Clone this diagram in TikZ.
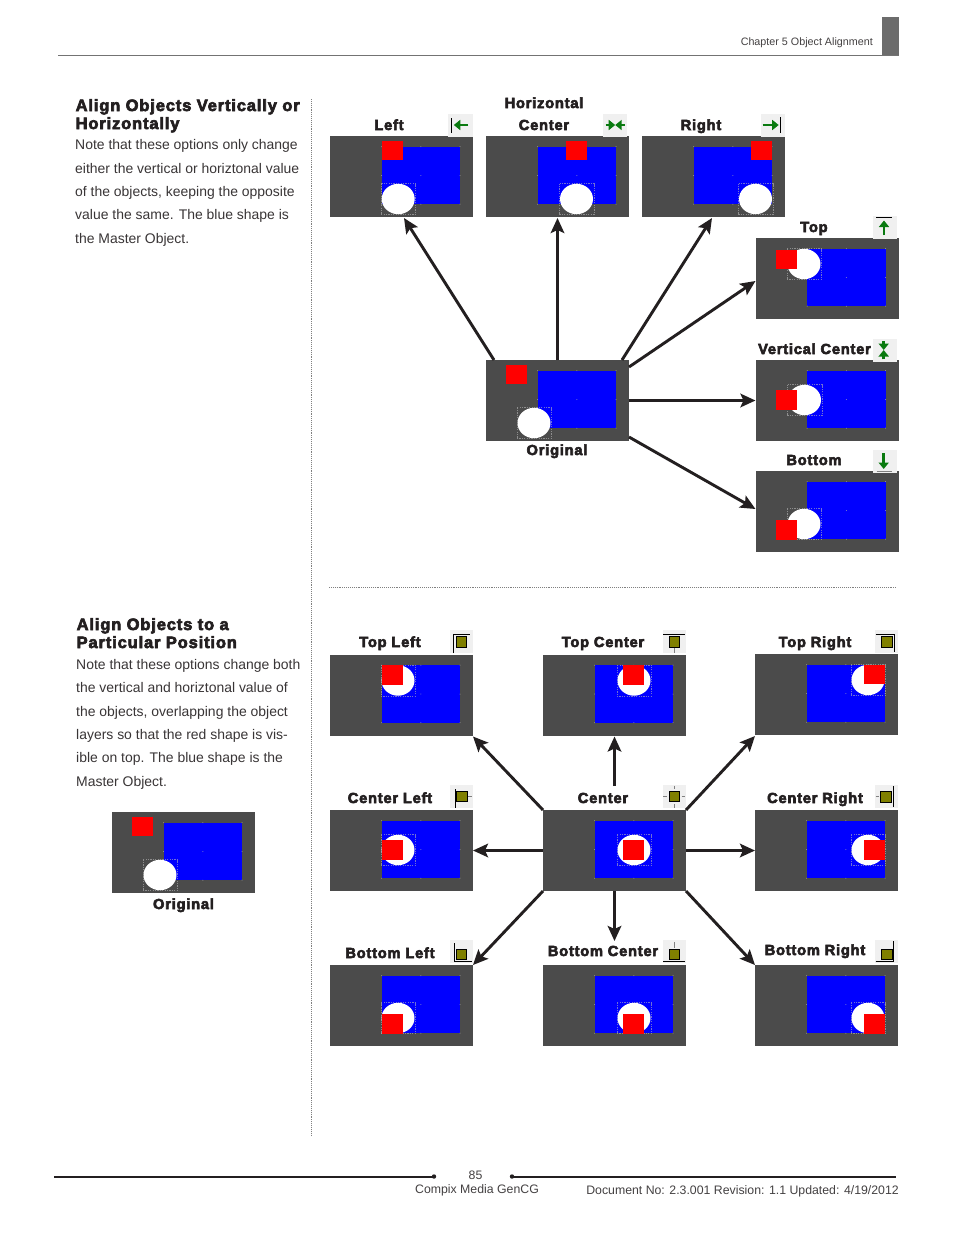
\documentclass[tikz,border=0pt]{standalone}
\usepackage{fontspec}
\usetikzlibrary{arrows.meta}
\setmainfont{Liberation Sans}
\newfontfamily\heavy[FakeBold=4,LetterSpace=5.5]{Liberation Sans Bold}
\definecolor{ink}{HTML}{231F20}
\definecolor{panelgray}{HTML}{4B4B4B}
\definecolor{iconbg}{HTML}{F0F0F0}
\definecolor{igreen}{HTML}{0A7A10}
\definecolor{olive1}{HTML}{808000}
\tikzset{
  panelbox/.style={rectangle,fill=panelgray,anchor=north west,inner sep=0pt,outer sep=0pt,minimum width=143pt,minimum height=81pt},
  lab/.style={anchor=base,inner sep=0pt,font=\heavy\fontsize{14.6}{16}\selectfont,text=ink},
  head/.style={anchor=base west,inner sep=0pt,align=left,font=\heavy\fontsize{16.4}{18}\selectfont,text=ink},
  body/.style={anchor=base west,inner sep=0pt,align=left,font=\fontsize{13.95}{23.3}\selectfont,text=ink!90},
  foot/.style={inner sep=0pt,font=\fontsize{12.3}{14}\selectfont,text=ink!85},
  conn/.style={draw=ink,line width=2.9pt,-{Stealth[length=15pt,width=13.5pt,inset=3pt]}},
  garrow/.style={draw=igreen,line width=2.8pt,-{Triangle[length=6.5pt,width=10pt]}},
  iline/.style={draw=black,line width=0.9pt},
  stub/.style={draw=gray,line width=0.9pt},
  oliv/.style={fill=olive1,draw=black,line width=1pt},
  seldash/.style={draw=gray!55,draw opacity=0.6,line width=0.3pt,dash pattern=on 1.2pt off 1.2pt},
  pagerule/.style={draw=ink,line width=2pt},
  dotrule/.style={draw=gray,line width=0.6pt,dash pattern=on 0.7pt off 1.2pt}
}
% name, x, y, red x, red y, circle cx, circle cy
\newcommand{\pnl}[7]{%
  \begin{scope}[shift={(#2,#3)}]
    \node[panelbox] (#1) at (0,0) {};
    \fill[blue] (51.7,10.7) rectangle (130,68.2);
    \foreach \hx in {51.7,90.8,130}{\foreach \hy in {10.7,39.5,68.2}{\fill[gray!55,opacity=0.7] (\hx,\hy) circle (0.5);}}
    \fill[white] (#6,#7) ellipse (16.5 and 15.2);
    \draw[seldash] (#6-17.3,#7-15.5) rectangle (#6+17.3,#7+15.5);
    \fill[red] (#4,#5) rectangle ++(21.2,19.5);
  \end{scope}}
\newcommand{\icn}[4]{%
  \begin{scope}[shift={(#1,#2)}]
    \fill[iconbg] (0,0) rectangle (#3,23);
    #4
  \end{scope}}
\newcommand{\sq}[2]{\draw[oliv] (#1,#2) rectangle ++(10.3,10.3);}
\begin{document}
\begin{tikzpicture}[x=1pt,y=-1pt]
\useasboundingbox (0,0) rectangle (954,1235);
\fill[white] (0,0) rectangle (954,1235);
% header
\fill[gray!85!black] (882,17) rectangle (899,56);
\coordinate (hrA) at (58,55.7); \coordinate (hrB) at (899,55.7);
\draw[draw=gray!90!black,line width=1.4pt] (hrA) -- (hrB);
\node[foot,anchor=base east,font=\fontsize{10.75}{12}\selectfont] (chap) at (873,45) {Chapter 5 Object Alignment};
% dotted rules
\coordinate (vdA) at (311,99); \coordinate (vdB) at (311,1136);
\draw[dotrule] (vdA) -- (vdB);
\coordinate (hdA) at (329,587); \coordinate (hdB) at (897,587);
\draw[dotrule] (hdA) -- (hdB);
% left column
\node[head] (h1) at (75.5,129) {Align Objects Vertically or\\Horizontally};
\node[body] (b1) at (75,243) {Note that these options only change\\either the vertical or horiztonal value\\of the objects, keeping the opposite\\value the same. The blue shape is\\the Master Object.};
\node[head] (h2) at (76.5,648) {Align Objects to a\\Particular Position};
\node[body] (b2) at (76,786) {Note that these options change both\\the vertical and horiztonal value of\\the objects, overlapping the object\\layers so that the red shape is vis-\\ible on top. The blue shape is the\\Master Object.};
% top group panels
\pnl{left}{330}{136}{51.7}{4.7}{68.2}{63}
\pnl{hcen}{486}{136}{80}{4.7}{90.5}{63}
\pnl{right}{642}{136}{109}{4.7}{113.5}{63}
\pnl{top}{755.5}{238}{20}{11.7}{48.5}{26}
\pnl{vcen}{755.5}{360}{20}{30.3}{49}{40}
\pnl{bot}{755.5}{471}{20}{49}{48.5}{53}
\pnl{orig}{486}{360}{20}{4.7}{48}{63}
% lower group panels
\pnl{tl}{330}{654.5}{51.5}{10.7}{68}{26}
\pnl{tc}{543}{654.5}{80}{10.7}{91}{26}
\pnl{tr}{755}{654}{109}{10.7}{113}{26}
\pnl{cl}{330}{810}{51.5}{30}{68}{40}
\pnl{cc}{543}{810}{80}{30}{91}{40}
\pnl{cr}{755}{810}{109}{30}{113}{40}
\pnl{bl}{330}{965}{51.5}{49}{68}{53}
\pnl{bc}{543}{965}{80}{49}{91}{53}
\pnl{br}{755}{965}{109}{49}{113}{53}
\pnl{orig2}{112}{812}{20}{4.7}{48}{63}
% labels
\node[lab] (lLeft) at (389,130) {Left};
\node[lab] (lHor) at (544,108) {Horizontal};
\node[lab] (lCen) at (544,130) {Center};
\node[lab] (lRight) at (701,130) {Right};
\node[lab] (lTop) at (814,232) {Top};
\node[lab] (lVC) at (814.5,354) {Vertical Center};
\node[lab] (lBot) at (814,465) {Bottom};
\node[lab] (lOrig) at (557,455) {Original};
\node[lab] (lTL) at (390,647) {Top Left};
\node[lab] (lTC) at (603,647) {Top Center};
\node[lab] (lTR) at (815,647) {Top Right};
\node[lab] (lCL) at (390,803) {Center Left};
\node[lab] (lCC) at (603,803) {Center};
\node[lab] (lCR) at (815,803) {Center Right};
\node[lab] (lBL) at (390,958) {Bottom Left};
\node[lab] (lBC) at (603,956) {Bottom Center};
\node[lab] (lBR) at (815,955) {Bottom Right};
\node[lab] (lOrig2) at (183.5,909) {Original};
% green icons
\icn{448.3}{114}{24.4}{\draw[iline] (3.4,4)--(3.4,19); \draw[garrow] (20,11)--(5.5,11);}
\icn{602.5}{114}{24.4}{\draw[garrow] (3,11)--(12.7,11); \draw[garrow] (22,11)--(12.7,11);}
\icn{760.7}{114}{24.4}{\draw[iline] (19.6,3)--(19.6,19); \draw[garrow] (2,11)--(18,11);}
\icn{873}{216}{24}{\draw[iline] (3,1.7)--(19,1.7); \draw[garrow] (11,19)--(11,4.5);}
\icn{873}{339}{24}{\draw[garrow] (10.7,2)--(10.7,11); \draw[garrow] (10.7,20.3)--(10.7,11);}
\icn{873}{450}{24}{\draw[garrow] (10.7,3.3)--(10.7,19); \draw[draw=gray,line width=1pt] (3.7,21.3)--(18.7,21.3);}
% olive icons
\icn{450}{630}{23}{\draw[iline] (3.4,23)--(3.4,4.3)--(20,4.3); \sq{6.5}{6.7}}
\icn{662.7}{630}{23}{\draw[iline] (0.5,4)--(22,4); \draw[stub] (11.5,17)--(11.5,23); \sq{6.5}{6.7}}
\icn{875}{630}{23}{\draw[iline] (0.7,4.3)--(19.3,4.3)--(19.3,22); \sq{6.7}{6.7}}
\icn{450}{785}{23}{\draw[iline] (5,4)--(5,23); \draw[stub] (18,11.5)--(22,11.5); \sq{6.7}{6.3}}
\icn{662.7}{785}{23}{\draw[stub] (11.5,0.5)--(11.5,4); \draw[stub] (11.5,19)--(11.5,23); \draw[stub] (0.5,11.5)--(4,11.5); \draw[stub] (19,11.5)--(22.5,11.5); \sq{6.5}{6.3}}
\icn{875}{785}{23}{\draw[iline] (18.5,1)--(18.5,22); \draw[stub] (0.5,11.5)--(4,11.5); \sq{5.8}{6.7}}
\icn{450}{940}{23}{\draw[iline] (4.3,3)--(4.3,21.3)--(21.7,21.3); \sq{6.2}{9}}
\icn{662.7}{940}{23}{\draw[iline] (0.5,21.3)--(22,21.3); \draw[stub] (11.5,2)--(11.5,8); \sq{6.5}{9}}
\icn{875}{940}{23}{\draw[iline] (0.7,21.7)--(18.3,21.7)--(18.3,1); \sq{6.7}{9}}
% connectors, top group
\draw[conn] ([xshift=8pt]orig.north west) -- ([xshift=74pt,yshift=-1pt]left.south west);
\draw[conn] (orig.north) -- ([xshift=71.5pt,yshift=-1pt]hcen.south west);
\draw[conn] ([xshift=-7pt]orig.north east) -- ([xshift=70pt,yshift=-1pt]right.south west);
\draw[conn] ([yshift=-7pt]orig.north east) -- ([yshift=-43pt]top.north west);
\draw[conn] (orig.east) -- (vcen.west);
\draw[conn] ([yshift=4pt]orig.south east) -- ([yshift=-38pt]bot.north west);
% connectors, lower group
\coordinate (tcFree) at (614.5,786);
\coordinate (bcFree) at (614.5,941);
\draw[conn] (cc.north west) -- ([yshift=-1pt]tl.south east);
\draw[conn] (tcFree) -- ([xshift=71.5pt,yshift=-1pt]tc.south west);
\draw[conn] (cc.north east) -- ([yshift=-1pt]tr.south west);
\draw[conn] (cc.west) -- (cl.east);
\draw[conn] (cc.east) -- (cr.west);
\draw[conn] (cc.south west) -- (bl.north east);
\draw[conn] ([xshift=71.5pt]cc.south west) -- (bcFree);
\draw[conn] (cc.south east) -- (br.north west);
% footer
\coordinate (frA) at (54,1176.5); \coordinate (frB) at (434,1176.5);
\coordinate (frC) at (512,1176.5); \coordinate (frD) at (896,1176.5);
\draw[pagerule] (frA) -- (frB); \fill[ink] (frB) circle (2.2);
\draw[pagerule] (frC) -- (frD); \fill[ink] (frC) circle (2.2);
\node[foot,anchor=base] (pg) at (475.5,1179) {85};
\node[foot,anchor=base] (co) at (477,1193) {Compix Media GenCG};
\node[foot,anchor=base east] (doc) at (899,1194) {Document No: 2.3.001 Revision: 1.1 Updated: 4/19/2012};
\end{tikzpicture}
\end{document}
